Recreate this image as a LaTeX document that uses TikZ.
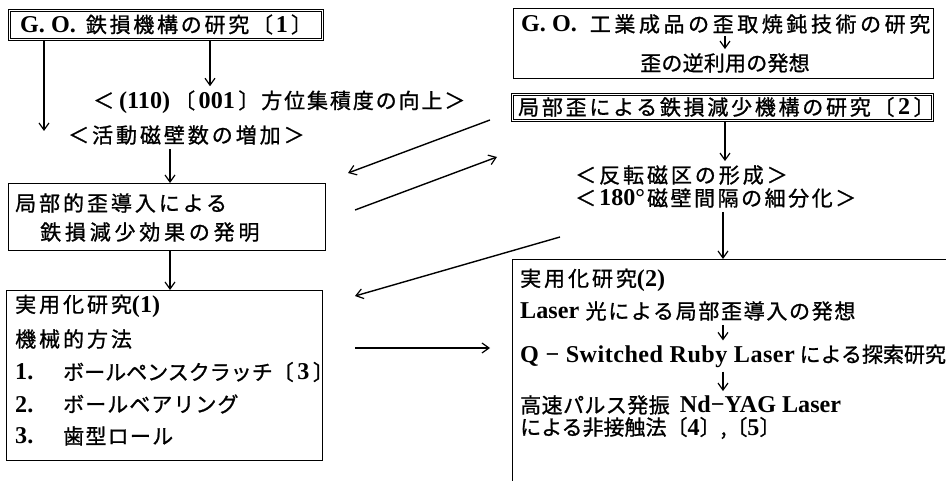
\documentclass[tikz,border=0pt]{standalone}
\usepackage{fontspec}
\setmainfont{Noto Sans CJK JP}[FakeBold=1]
\newfontfamily\lat{Liberation Serif}[Scale=1.15]
\usetikzlibrary{arrows.meta,calc}
\newcommand\lt[1]{{\lat\bfseries #1}}
\newcommand\ltw[2]{{\lat\bfseries\addfontfeatures{LetterSpace=#1}#2}}
\newcommand\ls[1]{\addfontfeatures{LetterSpace=#1}}
\begin{document}
\begin{tikzpicture}[x=1pt,y=-1pt,
  box/.style={draw, line width=0.9pt, inner sep=0pt, anchor=north west},
  dbox/.style={box, double, double distance=1.6pt, line width=0.8pt},
  arr/.style={-{Straight Barb[length=7pt,width=10pt,line width=1.2pt]}, line width=1.4pt},
  txt/.style={inner sep=0pt, anchor=west, font=\fontsize{21}{24}\selectfont},
  lbl/.style={inner xsep=0pt, inner ysep=4pt, font=\fontsize{21}{24}\selectfont}]
\useasboundingbox (0,0) rectangle (946,481);
\clip (0,0) rectangle (946,481);
% ---------- left column ----------
\node[dbox, minimum width=313pt, minimum height=29pt] (b1) at (9,10) {};
\node[txt] (t1) at (20,24.5) {\ls{13}\lt{G. O.}\hspace{10pt}鉄損機構の研究〔\hspace{3pt}\lt{1}\hspace{3pt}〕};
\node[lbl, anchor=west] (L1) at (93,102) {\ls{9}＜\hspace{5pt}\lt{(110)}\hspace{4pt}〔\,\lt{001}\,〕方位集積度の向上＞};
\node[lbl, anchor=west] (L2) at (68,135) {\ls{14}＜活動磁壁数の増加＞};
\node[box, minimum width=317pt, minimum height=67pt] (b3) at (8,183) {};
\node[txt] (t3a) at (15,203) {\ls{14}局部的歪導入による};
\node[txt] (t3b) at (40,232) {\ls{18}鉄損減少効果の発明};
\node[box, minimum width=316pt, minimum height=170pt] (b4) at (6,290) {};
\node[txt] (t4a) at (15,306) {\ls{14}実用化研究\lt{(1)}};
\node[txt] (t4b) at (15,339) {\ls{14}機械的方法};
\node[txt] (t4c) at (15,372) {\makebox[48pt][l]{\lt{1.}}\ls{0}ボールペンスクラッチ〔\,\lt{3}\,〕};
\node[txt] (t4d) at (15,404) {\makebox[48pt][l]{\lt{2.}}\ls{5}ボールベアリング};
\node[txt] (t4e) at (15,436) {\makebox[48pt][l]{\lt{3.}}\ls{6}歯型ロール};
% ---------- right column ----------
\node[box, minimum width=420pt, minimum height=70pt] (b2) at (513,8) {};
\node[txt] (t2a) at (521,24) {\ls{17}\lt{G. O.}\hspace{13pt}工業成品の歪取焼鈍技術の研究};
\node[lbl] (t2b) at (725,63) {\ls{1}歪の逆利用の発想};
\node[dbox, minimum width=420pt, minimum height=26pt] (b5) at (512,94) {};
\node[txt] (t5) at (518,107) {\ls{13}局部歪による鉄損減少機構の研究〔\,\lt{2}\,〕};
\node[lbl, anchor=west] (L3) at (575,175) {\ls{14}＜反転磁区の形成＞};
\node[lbl, anchor=west] (L4) at (575,198) {\ls{12}＜\hspace{3pt}\lt{180°}\hspace{2pt}磁壁間隔の細分化＞};
\node[box, minimum width=450pt, minimum height=240pt] (b6) at (512,259) {};
\node[lbl, anchor=west] (t6a) at (520,280) {\ls{14}実用化研究\lt{(2)}};
\node[lbl, anchor=west] (t6b) at (520,311) {\ls{8}\lt{Laser}\ 光による局部歪導入の発想};
\node[lbl, anchor=west] (t6c) at (520,356) {\ltw{2}{Q − Switched Ruby Laser}\ による探索研究};
\node[lbl, anchor=west] (t6d) at (520,405) {\ls{2}高速パルス発振\ \ \lt{Nd−YAG Laser}};
\node[lbl, anchor=west] (t6e) at (520,428) {による非接触法〔\lt{4}〕,〔\lt{5}〕};
% ---------- vertical connectors ----------
\coordinate (e1) at (44,131);
\coordinate (m1) at (210,0);
\coordinate (m2) at (170,0);
\coordinate (m3) at (725,0);
\coordinate (m4) at (723,0);
\draw[arr] (b1.south -| e1) -- (e1);
\draw[arr] (b1.south -| m1) -- (L1.north -| m1);
\draw[arr] (L2.south -| m2) -- (b3.north -| m2);
\draw[arr] (b3.south -| m2) -- (b4.north -| m2);
\draw[arr] (t2a.south -| m3) ++(0,2) -- (t2b.north -| m3);
\draw[arr] (b5.south -| m3) -- (L3.north -| m3);
\draw[arr] (L4.south -| m4) -- (b6.north -| m4);
\draw[arr] (t6b.south -| m4) -- (t6c.north -| m4);
\draw[arr] (t6c.south -| m4) -- (t6d.north -| m4);
% ---------- cross connectors ----------
\coordinate (a1s) at (490,120);
\coordinate (a1e) at (348,173);
\coordinate (a2s) at (355,210);
\coordinate (a2e) at (497,157);
\coordinate (a3s) at (560,237);
\coordinate (a3e) at (355,296);
\coordinate (a4s) at (355,348);
\coordinate (a4e) at (490,348);
\draw[arr] (a1s) -- (a1e);
\draw[arr] (a2s) -- (a2e);
\draw[arr] (a3s) -- (a3e);
\draw[arr] (a4s) -- (a4e);
\end{tikzpicture}
\end{document}
